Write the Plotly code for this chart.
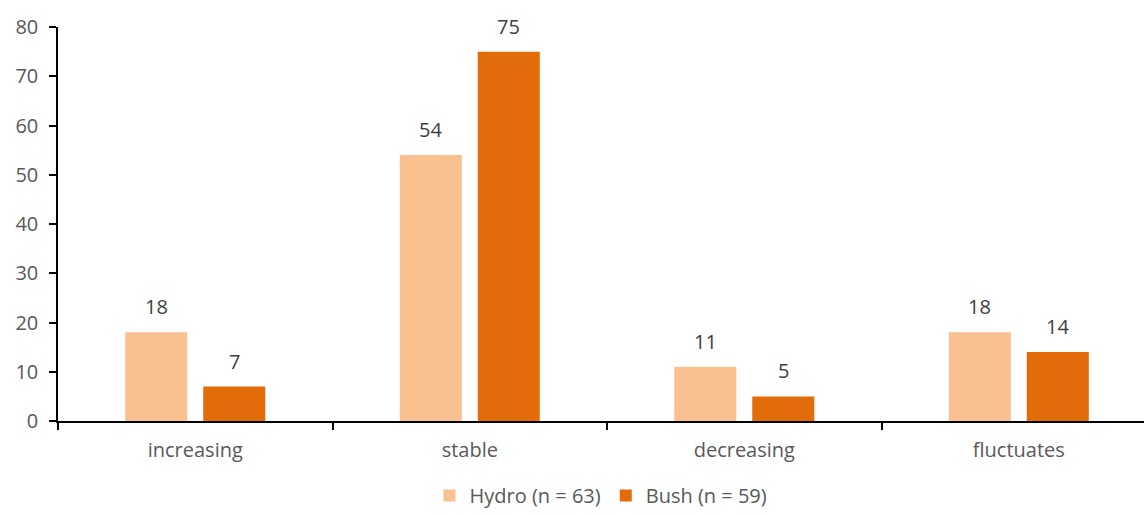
import plotly.graph_objects as go

categories = ["increasing", "stable", "decreasing", "fluctuates"]
hydro = [18, 54, 11, 18]
bush = [7, 75, 5, 14]
series_names = ["Hydro (n = 63)", "Bush (n = 59)"]
y_ticks = [0, 10, 20, 30, 40, 50, 60, 70, 80]

font = "Open Sans, Liberation Sans, sans-serif"
fs = 20
label_font = dict(size=fs, color="#404040", family=font)
fig = go.Figure()
specs = [(hydro, series_names[0], "#F9C090", -0.255), (bush, series_names[1], "#E36C0A", 0.029)]
for vals, name, color, off in specs:
    fig.add_trace(go.Bar(x=categories, y=vals, name=name, marker_color=color,
                         marker_line_width=0, width=0.226, offset=off))
    for i, v in enumerate(vals):
        fig.add_annotation(x=i + off + 0.113, y=v, text=str(v), showarrow=False,
                           yanchor="bottom", yshift=10, font=label_font)

fig.update_layout(
    width=1144, height=515, plot_bgcolor="white", paper_bgcolor="white",
    margin=dict(l=58, r=0, t=27, b=94),
    barmode="overlay",
    font=dict(family=font, size=fs, color="#595959"),
    showlegend=True,
    legend=dict(orientation="h", x=0.5, xanchor="center", yref="container", y=0.0,
                yanchor="bottom", font=dict(size=fs, color="#595959"), itemwidth=30,
                tracegroupgap=0),
    xaxis=dict(range=[-0.5, 3.456], showline=True, linecolor="black", linewidth=1.5,
               ticks="outside", tickson="boundaries", ticklen=7, tickcolor="black", tickwidth=1.5,
               showgrid=False, automargin=False, ticklabelstandoff=10,
               tickfont=dict(size=fs, color="#595959")),
    yaxis=dict(range=[0, 80], tickvals=y_ticks, showline=True, linecolor="black", linewidth=1.5,
               ticks="outside", ticklen=7, tickcolor="black", tickwidth=1.5, showgrid=False,
               zeroline=False, automargin=False, ticklabelstandoff=7,
               tickfont=dict(size=fs, color="#595959")),
)
fig.write_html("out.html", config={"displayModeBar": False},
               post_script="document.body.style.margin='0';")
